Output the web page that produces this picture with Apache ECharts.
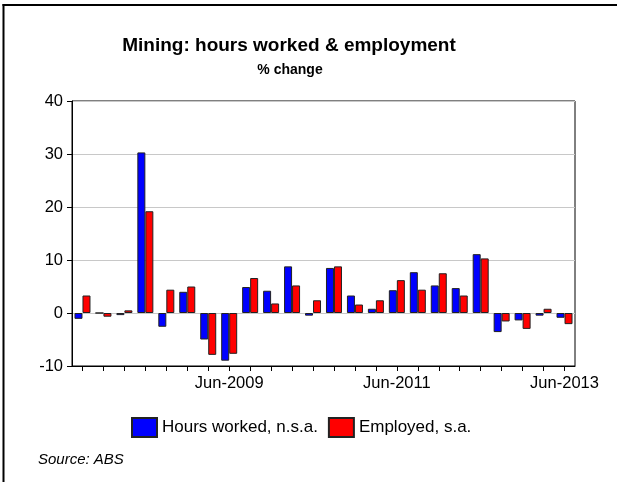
<!DOCTYPE html>
<html>
<head>
<meta charset="utf-8">
<script src="https://cdn.jsdelivr.net/npm/echarts@6/dist/echarts.min.js"></script>
<style>
html,body{margin:0;padding:0;background:#fff;}
#c{width:617px;height:482px;}
</style>
</head>
<body>
<div id="c"></div>
<script>
var categories = ["Sep-2007","Dec-2007","Mar-2008","Jun-2008","Sep-2008","Dec-2008","Mar-2009","Jun-2009",
  "Sep-2009","Dec-2009","Mar-2010","Jun-2010","Sep-2010","Dec-2010","Mar-2011","Jun-2011",
  "Sep-2011","Dec-2011","Mar-2012","Jun-2012","Sep-2012","Dec-2012","Mar-2013","Jun-2013"];
var hoursWorked = [-1.1, 0.0, -0.4, 30.3, -2.6, 4.0, -5.0, -9.0, 4.9, 4.2, 8.8, -0.5,
  8.5, 3.3, 0.8, 4.3, 7.7, 5.2, 4.7, 11.1, -3.6, -1.4, -0.5, -0.9];
var employed = [3.3, -0.7, 0.5, 19.2, 4.4, 5.0, -7.9, -7.7, 6.6, 1.8, 5.2, 2.4,
  8.8, 1.6, 2.4, 6.2, 4.4, 7.5, 3.3, 10.3, -1.6, -3.0, 0.8, -2.1];
var yTicks = [-10, 0, 10, 20, 30, 40];
var labeledCategories = ["Jun-2009", "Jun-2011", "Jun-2013"];

var FONT = "'Liberation Sans', Arial, sans-serif";
var chart = echarts.init(document.getElementById('c'), null, {renderer: 'canvas'});
chart.setOption({
  backgroundColor: '#ffffff',
  animation: false,
  graphic: [
    {type: 'line', shape: {x1: 2.5, y1: 5, x2: 617, y2: 5}, style: {stroke: '#000', lineWidth: 2}},
    {type: 'line', shape: {x1: 3.5, y1: 4, x2: 3.5, y2: 482}, style: {stroke: '#000', lineWidth: 2}},
    {type: 'text', style: {text: 'Mining: hours worked & employment', x: 289, y: 46, align: 'center', verticalAlign: 'middle',
      font: 'bold 19px ' + FONT, fill: '#000'}},
    {type: 'text', style: {text: '% change', x: 290, y: 70, align: 'center', verticalAlign: 'middle',
      font: 'bold 14px ' + FONT, fill: '#000'}},
    {type: 'text', style: {text: 'Source: ABS', x: 38, y: 460, align: 'left', verticalAlign: 'middle',
      font: 'italic 15px ' + FONT, fill: '#000'}}
  ],
  legend: {
    left: 131, top: 417, padding: 0,
    itemWidth: 25, itemHeight: 19, itemGap: 10,
    textStyle: {fontFamily: FONT, fontSize: 17, color: '#000'},
    data: [
      {name: 'Hours worked, n.s.a.', icon: 'rect'},
      {name: 'Employed, s.a.', icon: 'rect'}
    ]
  },
  grid: {left: 72, right: 42, top: 101, bottom: 116, show: true, borderColor: '#000', borderWidth: 1, containLabel: false},
  xAxis: {
    type: 'category',
    data: categories,
    axisLine: {onZero: false, lineStyle: {color: '#000', width: 1}},
    axisTick: {show: true, alignWithLabel: true, interval: 0, length: 5, lineStyle: {color: '#000'}},
    axisLabel: {
      interval: function (i, v) { return labeledCategories.indexOf(v) >= 0; },
      margin: 9, color: '#000', fontFamily: FONT, fontSize: 16.5
    },
    splitLine: {show: false}
  },
  yAxis: {
    type: 'value', min: yTicks[0], max: yTicks[yTicks.length - 1], interval: 10,
    axisLine: {show: true, lineStyle: {color: '#000', width: 1}},
    axisTick: {show: true, length: 5, lineStyle: {color: '#000'}},
    axisLabel: {margin: 9, color: '#000', fontFamily: FONT, fontSize: 16.5},
    splitLine: {show: true, lineStyle: {color: '#c8c8c8', width: 1}}
  },
  series: [
    {name: 'Hours worked, n.s.a.', type: 'bar', data: hoursWorked, barWidth: 8, barGap: '0%',
      itemStyle: {color: '#0000ff', borderColor: '#222', borderWidth: 1}},
    {name: 'Employed, s.a.', type: 'bar', data: employed, barWidth: 8, barGap: '0%',
      itemStyle: {color: '#ff0000', borderColor: '#222', borderWidth: 1}}
  ]
});
</script>
</body>
</html>
